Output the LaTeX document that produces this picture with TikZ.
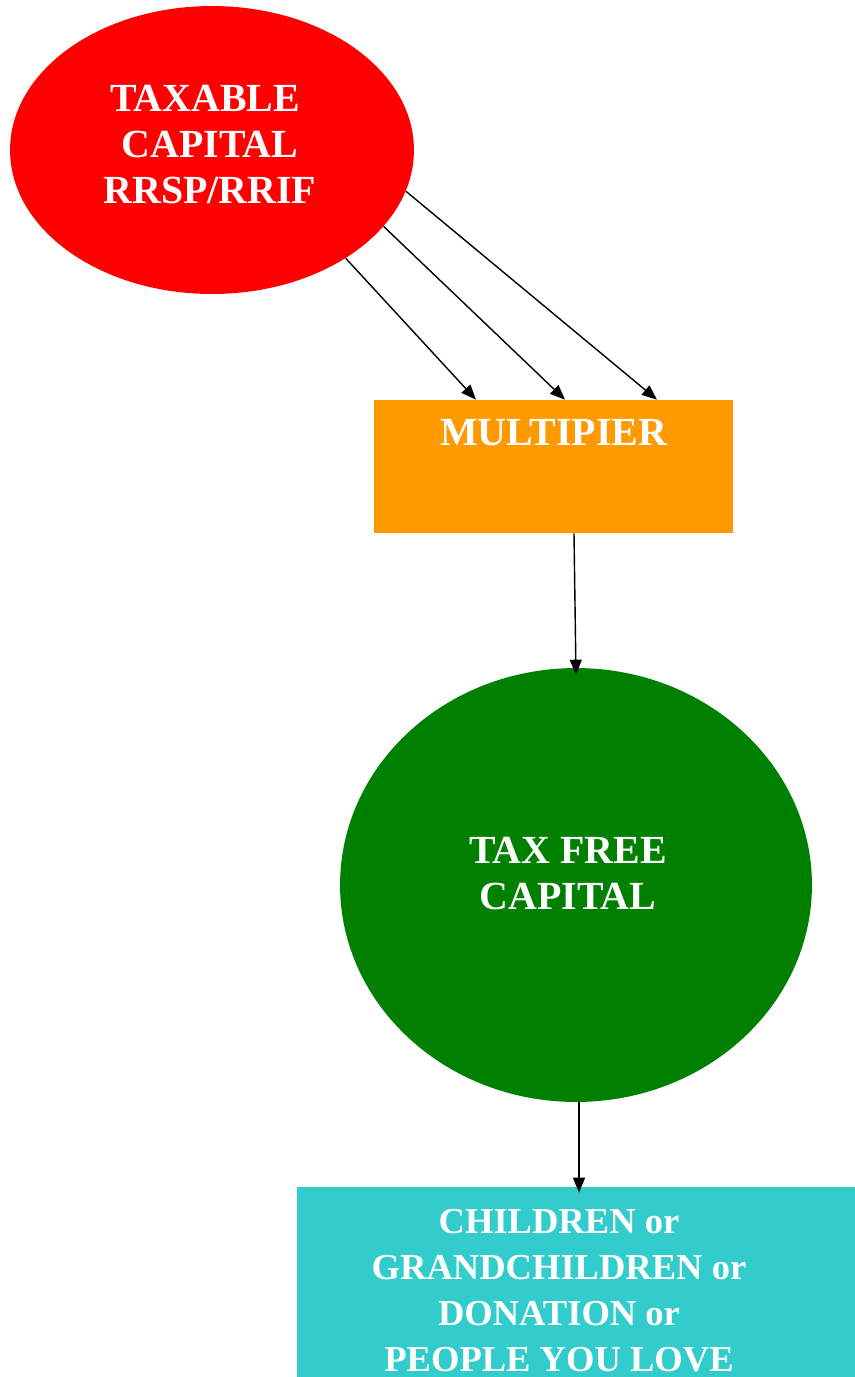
\documentclass[tikz,border=0pt]{standalone}
\usepackage{fontspec}
\setmainfont{Liberation Serif}
\usetikzlibrary{shapes.geometric,arrows.meta}
\definecolor{rouge}{RGB}{255,0,0}
\definecolor{orangemult}{RGB}{255,153,0}
\definecolor{vert}{RGB}{0,128,0}
\definecolor{turquoise}{RGB}{51,204,204}

\begin{document}
\begin{tikzpicture}[x=0.02cm,y=-0.02cm,
txt/.style={text=white,font=\bfseries\fontsize{22.7}{26.2}\selectfont,align=center,inner sep=0pt,anchor=north},
fleche/.style={-{Triangle[length=0.3cm,width=0.24cm]},line width=0.8pt}]
\useasboundingbox (0,0) rectangle (855,1377);
\node[ellipse,fill=rouge,minimum width=8.08cm,minimum height=5.76cm,inner sep=0pt] (taxable) at (212,150) {};
\node[txt] (ttaxable) at (210,85) {TAXABLE\hspace*{.25em}\\CAPITAL\hspace*{.25em}\\RRSP/RRIF};
\node[fill=orangemult,minimum width=7.18cm,minimum height=2.66cm,inner sep=0pt] (mult) at (553.5,466.5) {};
\node[txt] (tmult) at (553.5,419) {MULTIPIER};
\node[ellipse,fill=vert,minimum width=9.44cm,minimum height=8.68cm,inner sep=0pt] (free) at (576,885) {};
\node[txt] (tfree) at (568,837) {TAX FREE\\CAPITAL};
\node[fill=turquoise,minimum width=11.16cm,minimum height=3.8cm,inner sep=0pt] (love) at (576,1282) {};
\node[txt,font=\bfseries\fontsize{20.8}{26.2}\selectfont] (tlove) at (559,1209) {CHILDREN or\\GRANDCHILDREN or\\DONATION or\\PEOPLE YOU LOVE};

\foreach \a/\d in {-39/-1.55,-24/0.23,-12/2.07} {\draw[fleche] (taxable.\a) -- ([xshift=\d cm]mult.north);}
\draw[fleche] ([xshift=0.41cm]mult.south) -- ([yshift=-0.14cm]free.north);
\draw[fleche] ([xshift=0.06cm]free.south) -- ([xshift=0.06cm,yshift=-0.12cm]love.north);
\end{tikzpicture}
\end{document}
